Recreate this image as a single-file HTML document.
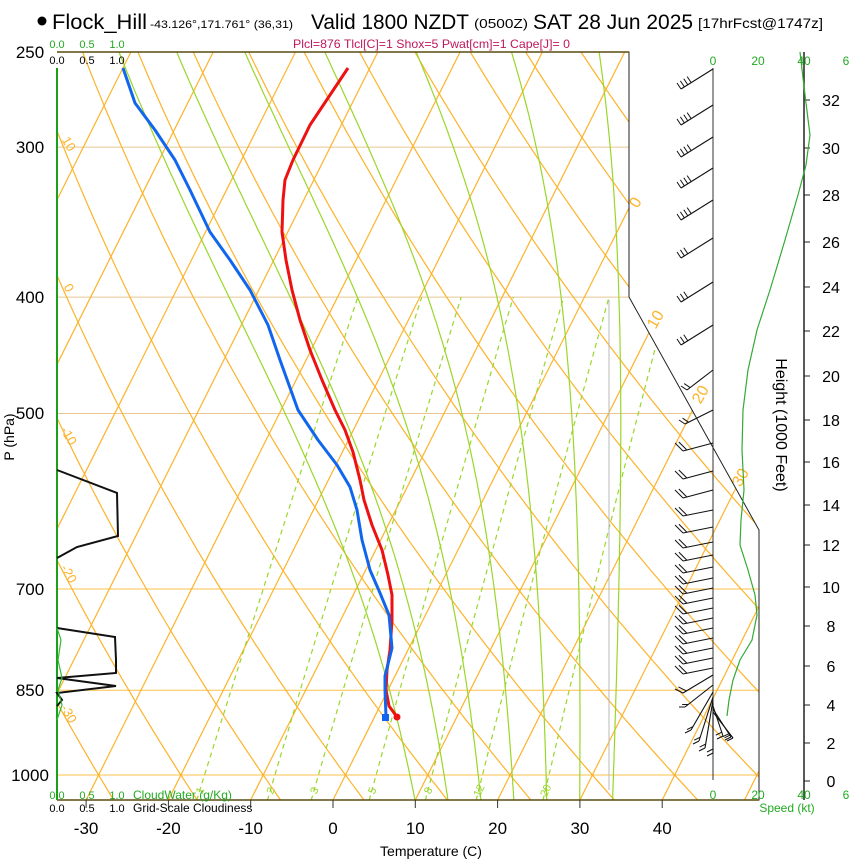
<!DOCTYPE html>
<html><head><meta charset="utf-8"><style>
html,body{margin:0;padding:0;background:#fff;}
svg{display:block;font-family:"Liberation Sans",sans-serif;}
</style></head><body>
<svg id="s" width="850" height="860" viewBox="0 0 850 860" xmlns="http://www.w3.org/2000/svg">
<defs><clipPath id="cp"><polygon points="57,52 629,52 629,297 759,530 759,800 57,800"/></clipPath></defs>
<g id="grid" clip-path="url(#cp)"></g>
<g id="fg"></g>
<circle cx="42" cy="21" r="4.5" fill="#000"/>
<text x="52" y="29" font-size="21" textLength="95" lengthAdjust="spacingAndGlyphs">Flock_Hill</text>
<text x="150" y="28" font-size="11" textLength="143" lengthAdjust="spacingAndGlyphs">-43.126°,171.761° (36,31)</text>
<text x="311" y="29" font-size="21" textLength="158" lengthAdjust="spacingAndGlyphs">Valid 1800 NZDT</text>
<text x="474" y="28" font-size="13" textLength="54" lengthAdjust="spacingAndGlyphs">(0500Z)</text>
<text x="533" y="29" font-size="21" textLength="160" lengthAdjust="spacingAndGlyphs">SAT 28 Jun 2025</text>
<text x="698" y="28" font-size="14" textLength="125" lengthAdjust="spacingAndGlyphs">[17hrFcst@1747z]</text>
<text x="293" y="48" font-size="12" fill="#c0185a" textLength="277" lengthAdjust="spacingAndGlyphs">Plcl=876 Tlcl[C]=1 Shox=5 Pwat[cm]=1 Cape[J]= 0</text>
</svg>
<script>
var S=document.getElementById('s'),G=document.getElementById('grid'),F=document.getElementById('fg');
var NS='http://www.w3.org/2000/svg';
function el(par,tag,a,txt){var e=document.createElementNS(NS,tag);for(var k in a)e.setAttribute(k,a[k]);if(txt!==undefined)e.textContent=txt;par.appendChild(e);return e;}
function Y(p){return 775-521.5*Math.log(1000/p);}
function X(T,p){return 333+8.23*T+0.5*(800-Y(p));}
function poly(par,pts,a){var d='';for(var i=0;i<pts.length;i++)d+=(i?'L':'M')+pts[i][0].toFixed(1)+','+pts[i][1].toFixed(1);a.d=d;a.fill='none';return el(par,'path',a);}
var OR='#fdb32a';
[1000,850,700].forEach(function(p){el(G,'line',{x1:57,x2:760,y1:Y(p),y2:Y(p),stroke:'#fdc04a','stroke-width':1.1});});
[500,400,300].forEach(function(p){el(G,'line',{x1:57,x2:760,y1:Y(p),y2:Y(p),stroke:'#e8c890','stroke-width':1});});
for(var T=-120;T<=60;T+=10){el(G,'line',{x1:X(T,1050),y1:Y(1050),x2:X(T,240),y2:Y(240),stroke:OR,'stroke-width':1.2});}
for(var th=-40;th<=200;th+=10){var pts=[];for(var p=1050;p>=240;p-=10){var Tk=(th+273.15)*Math.pow(p/1000,0.2857);pts.push([X(Tk-273.15,p),Y(p)]);}poly(G,pts,{stroke:OR,'stroke-width':1.2});}
function es(Tc){return 6.112*Math.exp(17.67*Tc/(Tc+243.5));}
[1,2,3,5,8,12,20].forEach(function(w){var pts=[];for(var p=1050;p>=400;p-=10){var e=w*p/(622+w);var l=Math.log(e/6.112);var Td=243.5*l/(17.67-l);pts.push([X(Td,p),Y(p)]);}poly(G,pts,{stroke:'#9ad62a','stroke-width':1.2,'stroke-dasharray':'5,4'});
 var e=w*1030/(622+w);var l=Math.log(e/6.112);var Td=243.5*l/(17.67-l);var x=X(Td,1030),y=Y(1030);
 el(F,'text',{x:x,y:y+4,'font-size':11,fill:'#9ad62a','text-anchor':'middle',transform:'rotate(-65 '+x+' '+y+')'},String(w));});
function moist(Tstart,pstart){var Rd=287.04,Cp=1005.7,Lv=2.501e6,eps=0.622;var T=Tstart+273.15,p=pstart,pts=[];
 while(p>=240){pts.push([X(T-273.15,p),Y(p)]);var e=es(T-273.15),rs=eps*e/(p-e);var dTdp=(1/p)*(Rd*T+Lv*rs)/(Cp+Lv*Lv*rs*eps/(Rd*T*T));T-=dTdp*5;p-=5;}return pts;}
[10,14,18,22,26,30,34].forEach(function(t){poly(G,moist(t,1050),{stroke:'#9ad62a','stroke-width':1.2});});
el(G,'line',{x1:609,x2:609,y1:300,y2:790,stroke:'#b8b8b8','stroke-width':1});
el(F,'polyline',{points:'57,52 629,52 629,297 759,530 759,800 57,800',fill:'none',stroke:'#222','stroke-width':1});
el(F,'line',{x1:57,x2:629,y1:52,y2:52,stroke:'#5a4a10','stroke-width':1.5});
el(F,'line',{x1:57,x2:759,y1:800,y2:800,stroke:'#5a4a10','stroke-width':1.5});
el(F,'line',{x1:57,x2:57,y1:68,y2:800,stroke:'#1aa01a','stroke-width':2});
[[0,640,205],[10,660,322],[20,705,397],[30,745,480]].forEach(function(a){el(F,'text',{x:a[1],y:a[2],'font-size':16,fill:OR,'text-anchor':'middle',transform:'rotate(-60 '+a[1]+' '+a[2]+')'},String(a[0]));});
[[10,65,146],[0,65,290],[-10,65,438],[-20,65,576],[-30,65,716]].forEach(function(a){el(F,'text',{x:a[1],y:a[2],'font-size':13,fill:OR,'text-anchor':'middle',transform:'rotate(60 '+a[1]+' '+a[2]+')'},String(a[0]));});
[[250,52],[300,147],[400,297],[500,413],[700,589],[850,690],[1000,775]].forEach(function(a){el(F,'text',{x:30,y:a[1]+6,'font-size':17,'text-anchor':'middle'},String(a[0]));});
el(F,'text',{x:14,y:437,'font-size':14,'text-anchor':'middle',transform:'rotate(-90 14 437)'},'P (hPa)');
for(var t=-30;t<=40;t+=10){var x=333+8.23*t;el(F,'line',{x1:x,x2:x,y1:800,y2:808,stroke:'#333'});el(F,'text',{x:x,y:834,'font-size':17,'text-anchor':'middle'},String(t));}
el(F,'text',{x:431,y:856,'font-size':14,'text-anchor':'middle'},'Temperature (C)');
[['0.0',57],['0.5',87],['1.0',117]].forEach(function(a){el(F,'text',{x:a[1],y:48,'font-size':11,fill:'#22aa22','text-anchor':'middle'},a[0]);el(F,'text',{x:a[1],y:64,'font-size':11,'text-anchor':'middle'},a[0]);el(F,'text',{x:a[1],y:799,'font-size':11,fill:'#22aa22','text-anchor':'middle'},a[0]);el(F,'text',{x:a[1],y:812,'font-size':11,'text-anchor':'middle'},a[0]);});
el(F,'text',{x:133,y:799,'font-size':12,fill:'#22aa22'},'CloudWater (g/Kg)');
el(F,'text',{x:133,y:812,'font-size':12},'Grid-Scale Cloudiness');
el(F,'polyline',{points:'57,470 117,493 118,536 77,547 57,558',fill:'none',stroke:'#111','stroke-width':2});
el(F,'polyline',{points:'57,628 115,637 116,660 116,673 57,678 116,686 57,693 62,700 57,706',fill:'none',stroke:'#111','stroke-width':2});
el(F,'polyline',{points:'57,628 61,640 58,660 62,678 58,690 62,705 57,720',fill:'none',stroke:'#33bb33','stroke-width':1.2});
var tp=[[348,68],[330,95],[310,125],[293,160],[285,180],[283,200],[282,232],[286,260],[292,290],[300,320],[310,350],[322,380],[335,410],[345,430],[353,452],[360,480],[364,500],[372,525],[382,550],[388,575],[392,595],[392,620],[390,650],[387,670],[386,690],[389,706],[397,717]];
var dp=[[123,68],[135,103],[155,130],[175,160],[190,190],[210,232],[230,260],[250,290],[268,325],[280,360],[298,410],[318,440],[337,465],[350,487],[357,510],[362,540],[370,570],[380,593],[389,615],[392,648],[385,676],[385,690],[386,717]];
poly(F,tp,{stroke:'#ee1111','stroke-width':3,'stroke-linejoin':'round'});
poly(F,dp,{stroke:'#1166ee','stroke-width':3,'stroke-linejoin':'round'});
el(F,'circle',{cx:397,cy:717,r:3.5,fill:'#ee1111'});el(F,'rect',{x:382,y:714,width:7,height:7,fill:'#1166ee'});
el(F,'line',{x1:713,x2:713,y1:68,y2:780,stroke:'#333','stroke-width':1});
el(F,'line',{x1:804,x2:804,y1:52,y2:800,stroke:'#222','stroke-width':1.5});
[['0',713],['20',758],['40',804],['6',846]].forEach(function(a){el(F,'text',{x:a[1],y:65,'font-size':12,fill:'#22aa22','text-anchor':'middle'},a[0]);el(F,'text',{x:a[1],y:799,'font-size':12,fill:'#22aa22','text-anchor':'middle'},a[0]);});
el(F,'text',{x:787,y:812,'font-size':12,fill:'#22aa22','text-anchor':'middle'},'Speed (kt)');
var hy=[781,743,705,666,626,587,545,505,462,420,376,331,287,242,195,148,100];
hy.forEach(function(y,i){el(F,'line',{x1:804,x2:810,y1:y,y2:y,stroke:'#222'});el(F,'text',{x:831,y:y+6,'font-size':16,'text-anchor':'middle'},String(i*2));});
el(F,'text',{x:776,y:425,'font-size':16,'text-anchor':'middle',transform:'rotate(90 776 425)'},'Height (1000 Feet)');
poly(F,[[800,52],[805,95],[810,135],[806,165],[798,195],[785,240],[770,290],[757,330],[748,370],[743,410],[742,450],[744,490],[741,520],[740,545],[748,570],[755,595],[757,615],[752,640],[740,660],[733,680],[729,700],[727,716]],{stroke:'#33aa33','stroke-width':1.2});
function barb(y,dx,dy,n,fx,fy){var ex=713+dx,ey=y+dy;el(F,'line',{x1:713,y1:y,x2:ex,y2:ey,stroke:'#111','stroke-width':1.1});var L=Math.sqrt(dx*dx+dy*dy);for(var i=0;i<n;i++){var bx=ex-dx/L*i*4,by=ey-dy/L*i*4;el(F,'line',{x1:bx,y1:by,x2:bx+fx,y2:by+fy,stroke:'#111','stroke-width':1});}}
[69,105,137,168,200,238,282,325].forEach(function(y,i){barb(y,-32,20,i<5?4:3,-4,-6);});
barb(370,-26,20,2,-6,-4);barb(410,-28,14,2,-6,-4);
[443,471,490,510,527,542,555,567,578,588,598,608,618,628,638,648,658,668].forEach(function(y,i){barb(y,-30,6+(i<3?2:0),2,-8,-8);});
barb(675,-30,18,2,-8,-4);barb(685,-28,22,2,-6,0);
[[692,-22,38],[697,-14,44],[700,-8,48],[703,0,50],[706,10,30],[709,18,28],[712,20,26]].forEach(function(a){barb(a[0],a[1],a[2],2,-6,3);});
</script>
</body></html>
